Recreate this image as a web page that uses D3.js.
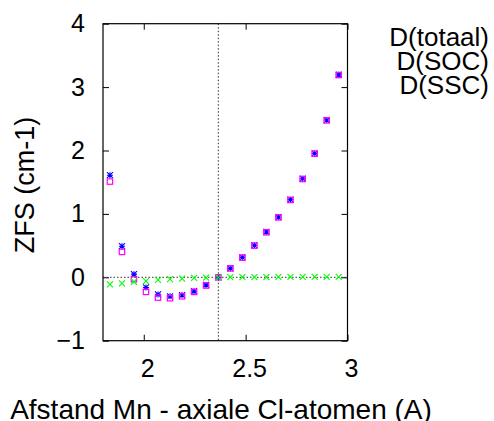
<!DOCTYPE html>
<html>
<head>
<meta charset="utf-8">
<script src="https://cdn.jsdelivr.net/npm/d3@7"></script>
<style>
  html, body { margin: 0; padding: 0; background: #fff; }
  svg { display: block; font-family: "Liberation Sans", Arial, sans-serif; }
</style>
</head>
<body>
<svg id="chart" width="494" height="421"></svg>
<script>
// Mn - axial Cl distance (A) and zero-field splitting components (cm-1)
const afstand = [1.834, 1.893, 1.952, 2.011, 2.070, 2.129, 2.188, 2.247, 2.306, 2.366,
                 2.425, 2.484, 2.543, 2.602, 2.661, 2.720, 2.780, 2.839, 2.898, 2.957];
const dTotaal = [1.61, 0.49, 0.05, -0.16, -0.27, -0.30, -0.28, -0.22, -0.12, 0.00,
                 0.14, 0.315, 0.505, 0.715, 0.95, 1.225, 1.555, 1.955, 2.48, 3.195];
const dSOC    = [1.51, 0.40, -0.03, -0.23, -0.32, -0.33, -0.30, -0.23, -0.13, 0.00,
                 0.14, 0.31, 0.50, 0.71, 0.945, 1.22, 1.55, 1.95, 2.475, 3.19];
const dSSC    = [-0.11, -0.095, -0.07, -0.06, -0.04, -0.03, -0.02, -0.01, -0.005, 0.00,
                 0.002, 0.003, 0.004, 0.004, 0.005, 0.005, 0.006, 0.006, 0.007, 0.007];
const evenwicht = 2.366;   // equilibrium distance, marked by a vertical dotted line
const xTicks = [2, 2.5, 3];
const yTicks = [-1, 0, 1, 2, 3, 4];
const seriesNames = ["D(totaal)", "D(SOC)", "D(SSC)"];

const svg = d3.select("#chart");
const pL = 103, pR = 347.5, pT = 23.7, pB = 340.7;

const x = d3.scaleLinear().domain([1.8, 3]).range([pL, pR]);
const y = d3.scaleLinear().domain([-1, 4]).range([pB, pT]);

const tickFont = 25, keyFont = 26, titleFont = 28;

// axes with inward ticks, mirrored on top and right
const axB = svg.append("g").attr("transform", `translate(0,${pB})`)
  .call(d3.axisBottom(x).tickValues(xTicks).tickSize(-6).tickPadding(19).tickFormat(d3.format("")));
const axT = svg.append("g").attr("transform", `translate(0,${pT})`)
  .call(d3.axisTop(x).tickValues(xTicks).tickSize(-6).tickFormat(""));
const axL = svg.append("g").attr("transform", `translate(${pL},0)`)
  .call(d3.axisLeft(y).tickValues(yTicks).tickSize(-6).tickPadding(18).tickFormat(d3.format("")));
const axR = svg.append("g").attr("transform", `translate(${pR},0)`)
  .call(d3.axisRight(y).tickValues(yTicks).tickSize(-6).tickFormat(""));

[axB, axT, axL, axR].forEach(a => {
  a.select(".domain").remove();
  a.selectAll(".tick line").attr("stroke", "#000").attr("stroke-width", 1);
  a.selectAll(".tick text").attr("font-size", tickFont).attr("fill", "#000")
    .attr("font-family", "Liberation Sans, Arial, sans-serif");
});
axB.selectAll(".tick text").attr("dx", 3.5);

// zero axis and equilibrium marker
svg.append("line")
  .attr("x1", pL).attr("x2", pR).attr("y1", y(0)).attr("y2", y(0))
  .attr("stroke", "#333").attr("stroke-width", 1).attr("stroke-dasharray", "1.5,2");
svg.append("line")
  .attr("x1", x(evenwicht)).attr("x2", x(evenwicht)).attr("y1", pT).attr("y2", pB)
  .attr("stroke", "#333").attr("stroke-width", 1).attr("stroke-dasharray", "1.5,2");

// frame
svg.append("rect")
  .attr("x", pL).attr("y", pT).attr("width", pR - pL).attr("height", pB - pT)
  .attr("fill", "none").attr("stroke", "#000").attr("stroke-width", 1.2);

const s = 3;
// D(totaal): blue asterisks
const gT = svg.append("g").attr("stroke", "#0000ff").attr("stroke-width", 1.1);
afstand.forEach((d, i) => {
  const cx = x(d), cy = y(dTotaal[i]);
  gT.append("path").attr("d",
    `M${cx - s},${cy}H${cx + s}M${cx},${cy - s}V${cy + s}` +
    `M${cx - s},${cy - s}L${cx + s},${cy + s}M${cx - s},${cy + s}L${cx + s},${cy - s}`);
});
// D(SOC): magenta open squares
svg.append("g").selectAll("rect").data(afstand).join("rect")
  .attr("x", d => x(d) - 2.7).attr("y", (d, i) => y(dSOC[i]) - 2.7)
  .attr("width", 5.4).attr("height", 5.4)
  .attr("fill", "none").attr("stroke", "#ff00ff").attr("stroke-width", 1.2);
// D(SSC): green crosses
const gS = svg.append("g").attr("stroke", "#00ff00").attr("stroke-width", 1.1);
afstand.forEach((d, i) => {
  const cx = x(d), cy = y(dSSC[i]);
  gS.append("path").attr("d",
    `M${cx - s},${cy - s}L${cx + s},${cy + s}M${cx - s},${cy + s}L${cx + s},${cy - s}`);
});

// key
svg.append("g").selectAll("text").data(seriesNames).join("text")
  .attr("x", 489).attr("y", (d, i) => 46 + i * 24)
  .attr("text-anchor", "end").attr("font-size", keyFont).attr("fill", "#000")
  .text(d => d);

// axis titles
svg.append("text")
  .attr("transform", `translate(33.5,185) rotate(-90)`)
  .attr("text-anchor", "middle").attr("font-size", titleFont - 1).attr("fill", "#000")
  .text("ZFS (cm-1)");
svg.append("text")
  .attr("x", 221).attr("y", 419)
  .attr("text-anchor", "middle").attr("font-size", titleFont).attr("fill", "#000")
  .text("Afstand Mn - axiale Cl-atomen (A)");
</script>
</body>
</html>
